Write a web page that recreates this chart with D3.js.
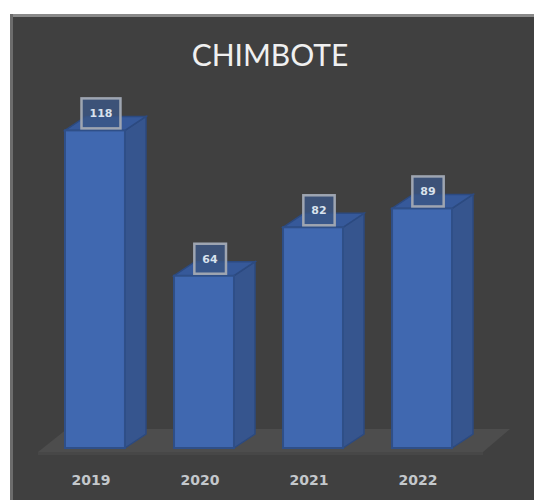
<!DOCTYPE html>
<html lang="en">
<head>
    <meta charset="UTF-8">
    <title>CHIMBOTE</title>
    <style>
        body { margin: 0; background: #ffffff; }
        svg { display: block; }
    </style>
</head>
<body>

<div id="chart-container"></div>

<script src="https://d3js.org/d3.v7.min.js"></script>
<script>
    // chart data
    const years = ['2019', '2020', '2021', '2022'];
    const totals = [118, 64, 82, 89];
    const chartTitle = 'CHIMBOTE';

    const width = 534;
    const height = 500;

    // 3d depth of the bars
    const depthX = 21;
    const depthY = -14;

    const svg = d3.select('#chart-container')
        .append('svg')
        .attr('width', width)
        .attr('height', height);

    // dark panel with border on top/left
    svg.append('rect')
        .attr('x', 10).attr('y', 14)
        .attr('width', width - 10).attr('height', height - 14)
        .attr('fill', '#404040');
    svg.append('rect')
        .attr('x', 10).attr('y', 14)
        .attr('width', width - 10).attr('height', 3)
        .attr('fill', '#8a8a8a');
    svg.append('rect')
        .attr('x', 10).attr('y', 14)
        .attr('width', 3).attr('height', height - 14)
        .attr('fill', '#6c6c6c');

    const x = d3.scaleBand()
        .domain(years)
        .range([65, 452])
        .paddingInner(0.45)
        .paddingOuter(0);

    const y = d3.scaleLinear()
        .domain([0, 120])
        .range([448, 125]);

    const base = y(0);
    const [x0, x1] = x.range();

    // floor
    svg.append('path')
        .attr('d', `M${x0 - 27},${base + 4} L${x1 + 31},${base + 4} L${x1 + 58},${base - 19} L${x0 + 2},${base - 19} Z`)
        .attr('fill', '#4d4d4d');
    svg.append('rect')
        .attr('x', x0 - 27).attr('y', base + 4)
        .attr('width', x1 - x0 + 58).attr('height', 3)
        .attr('fill', '#474747');

    // title
    svg.append('text')
        .attr('x', 270)
        .attr('y', 66)
        .attr('text-anchor', 'middle')
        .attr('font-family', 'Lato, "Open Sans", sans-serif')
        .attr('font-size', 30)
        .attr('fill', '#f0f0f0')
        .text(chartTitle);

    const data = years.map((yr, i) => ({ year: yr, value: totals[i] }));

    const bars = svg.selectAll('.bar')
        .data(data)
        .enter()
        .append('g')
        .attr('class', 'bar');

    // side face
    bars.append('path')
        .attr('d', d => {
            const bx = x(d.year) + x.bandwidth();
            const top = y(d.value);
            return `M${bx},${base} L${bx + depthX},${base + depthY} L${bx + depthX},${top + depthY} L${bx},${top} Z`;
        })
        .attr('fill', '#36558e')
        .attr('stroke', '#2c4a80')
        .attr('stroke-width', 1.5);

    // top face
    bars.append('path')
        .attr('d', d => {
            const bx = x(d.year);
            const bw = x.bandwidth();
            const top = y(d.value);
            return `M${bx},${top} L${bx + depthX},${top + depthY} L${bx + bw + depthX},${top + depthY} L${bx + bw},${top} Z`;
        })
        .attr('fill', '#36599a')
        .attr('stroke', '#2c4a80')
        .attr('stroke-width', 1.5);

    // front face
    bars.append('rect')
        .attr('x', d => x(d.year))
        .attr('y', d => y(d.value))
        .attr('width', x.bandwidth())
        .attr('height', d => base - y(d.value))
        .attr('fill', '#4068b0')
        .attr('stroke', '#2f4f88')
        .attr('stroke-width', 2);

    // value labels in boxes
    const labels = svg.selectAll('.val')
        .data(data)
        .enter()
        .append('g')
        .attr('class', 'val');

    labels.append('text')
        .attr('x', d => x(d.year) + x.bandwidth() / 2 + 6)
        .attr('y', d => y(d.value) - 13)
        .attr('text-anchor', 'middle')
        .attr('font-family', '"DejaVu Sans", sans-serif')
        .attr('font-weight', 'bold')
        .attr('font-size', 11)
        .attr('fill', '#d8e2ee')
        .text(d => d.value);

    labels.each(function() {
        const g = d3.select(this);
        const bb = g.select('text').node().getBBox();
        g.insert('rect', 'text')
            .attr('x', bb.x - 8)
            .attr('y', bb.y - 9)
            .attr('width', bb.width + 16)
            .attr('height', bb.height + 17)
            .attr('fill', '#3b5686')
            .attr('fill-opacity', 0.8)
            .attr('stroke', '#9ea5b1')
            .attr('stroke-width', 2.5);
    });

    // year labels
    svg.selectAll('.year')
        .data(years)
        .enter()
        .append('text')
        .attr('class', 'year')
        .attr('x', d => x(d) + x.bandwidth() / 2 - 4)
        .attr('y', 485)
        .attr('text-anchor', 'middle')
        .attr('font-family', '"DejaVu Sans", sans-serif')
        .attr('font-weight', 'bold')
        .attr('font-size', 14)
        .attr('fill', '#c4c8cc')
        .text(d => d);
</script>

</body>
</html>
